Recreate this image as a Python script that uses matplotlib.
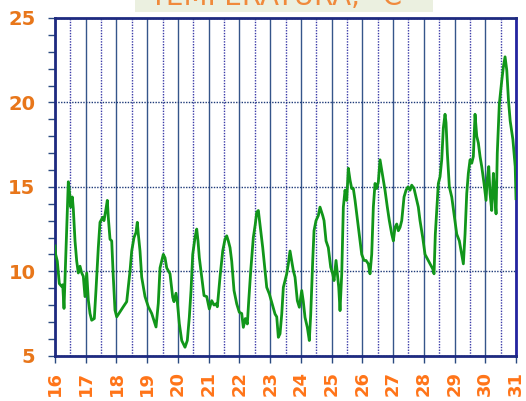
import matplotlib
matplotlib.use("Agg")
import matplotlib.pyplot as plt
from matplotlib.ticker import MultipleLocator
from matplotlib.patches import Rectangle

title = "TEMPERATURA, °C"
day_ticks = list(range(16, 32))
y_ticks = [5, 10, 15, 20, 25]

days = [16.0, 16.02, 16.075, 16.14, 16.218, 16.251, 16.293, 16.358, 16.433, 16.488,
        16.511, 16.563, 16.596, 16.651, 16.706, 16.758, 16.814, 16.869, 16.921, 16.976,
        17.032, 17.084, 17.139, 17.194, 17.279, 17.334, 17.409, 17.464, 17.552, 17.594,
        17.66, 17.702, 17.734, 17.79, 17.845, 17.897, 17.952, 18.008, 18.114, 18.222,
        18.333, 18.44, 18.496, 18.571, 18.636, 18.678, 18.711, 18.766, 18.821, 18.929,
        19.036, 19.147, 19.287, 19.361, 19.417, 19.524, 19.58, 19.635, 19.742, 19.83,
        19.872, 19.937, 19.98, 20.045, 20.123, 20.23, 20.305, 20.37, 20.426, 20.481,
        20.556, 20.611, 20.653, 20.696, 20.774, 20.849, 20.937, 21.021, 21.099, 21.174,
        21.239, 21.282, 21.369, 21.457, 21.532, 21.587, 21.639, 21.695, 21.75, 21.825,
        21.913, 21.997, 22.075, 22.128, 22.193, 22.258, 22.304, 22.369, 22.453, 22.518,
        22.564, 22.616, 22.649, 22.694, 22.759, 22.834, 22.889, 22.974, 23.052, 23.159,
        23.215, 23.267, 23.322, 23.378, 23.43, 23.484, 23.54, 23.592, 23.647, 23.702,
        23.755, 23.81, 23.885, 23.95, 24.028, 24.08, 24.135, 24.21, 24.275, 24.321,
        24.386, 24.428, 24.493, 24.568, 24.623, 24.711, 24.754, 24.819, 24.893, 24.971,
        25.036, 25.079, 25.144, 25.186, 25.232, 25.274, 25.33, 25.382, 25.437, 25.492,
        25.544, 25.6, 25.655, 25.707, 25.763, 25.818, 25.902, 25.98, 26.055, 26.12,
        26.195, 26.25, 26.305, 26.358, 26.413, 26.468, 26.521, 26.576, 26.631, 26.683,
        26.738, 26.813, 26.878, 26.957, 27.009, 27.064, 27.119, 27.171, 27.227, 27.282,
        27.357, 27.422, 27.487, 27.552, 27.607, 27.682, 27.747, 27.822, 27.877, 27.965,
        28.04, 28.115, 28.203, 28.291, 28.333, 28.375, 28.421, 28.473, 28.528, 28.583,
        28.636, 28.691, 28.723, 28.766, 28.831, 28.909, 28.984, 29.072, 29.156, 29.235,
        29.287, 29.342, 29.397, 29.449, 29.505, 29.56, 29.612, 29.667, 29.723, 29.775,
        29.83, 29.885, 29.96, 30.025, 30.067, 30.113, 30.156, 30.21, 30.264, 30.309,
        30.351, 30.391, 30.457, 30.537, 30.589, 30.644, 30.7, 30.756, 30.811, 30.899,
        30.974, 31.0]

temps = [11.5, 11.0, 10.6, 9.27, 9.1, 9.2, 7.8, 11.2, 15.3, 14.4,
         13.8, 14.4, 13.7, 11.8, 10.6, 9.9, 10.3, 9.9, 9.7, 8.5,
         9.9, 8.3, 7.5, 7.1, 7.2, 8.9, 11.4, 12.9, 13.2, 13.0,
         13.7, 14.2, 13.2, 11.9, 11.8, 9.65, 7.7, 7.3, 7.6, 7.9,
         8.2, 10.0, 11.2, 12.0, 12.3, 12.9, 12.2, 11.2, 9.65, 8.5,
         7.9, 7.5, 6.7, 8.1, 10.2, 11.0, 10.8, 10.2, 9.85, 8.46,
         8.2, 8.7, 8.2, 6.9, 5.9, 5.5, 5.9, 7.27, 8.86, 11.0,
         12.0, 12.5, 11.8, 10.8, 9.65, 8.56, 8.5, 7.77, 8.26, 8.0,
         8.07, 7.9, 9.65, 11.2, 11.9, 12.1, 11.8, 11.4, 10.6, 8.86,
         8.07, 7.57, 7.5, 6.68, 7.2, 6.88, 8.26, 10.04, 12.0, 12.8,
         13.5, 13.6, 13.1, 12.4, 11.4, 10.04, 9.05, 8.66, 8.16, 7.47,
         7.3, 6.09, 6.3, 7.47, 9.05, 9.45, 9.85, 10.44, 11.2, 10.6,
         10.04, 9.65, 8.26, 7.87, 8.86, 8.2, 7.27, 6.68, 5.9, 7.47,
         10.64, 12.4, 13.0, 13.3, 13.8, 13.3, 13.0, 11.8, 11.4, 10.24,
         9.85, 9.45, 10.64, 9.9, 9.05, 7.67, 9.85, 13.8, 14.8, 14.2,
         16.1, 15.4, 14.9, 14.9, 14.2, 13.4, 12.2, 11.0, 10.64, 10.64,
         10.44, 9.85, 11.0, 13.8, 15.2, 14.9, 15.3, 16.6, 16.0, 15.4,
         14.8, 13.8, 13.0, 12.2, 11.8, 12.6, 12.8, 12.4, 12.6, 13.0,
         14.4, 14.8, 15.0, 14.8, 15.1, 14.9, 14.4, 13.8, 13.0, 12.0,
         11.0, 10.74, 10.44, 10.14, 9.85, 12.2, 13.6, 15.2, 15.6, 16.6,
         18.5, 19.3, 18.8, 17.0, 15.0, 14.4, 13.4, 12.2, 11.8, 11.0,
         10.44, 12.2, 14.6, 15.8, 16.6, 16.4, 16.8, 19.3, 18.0, 17.6,
         16.8, 16.2, 15.2, 14.2, 15.5, 16.2, 14.6, 13.6, 15.8, 14.5,
         13.4, 17.0, 19.9, 21.3, 22.1, 22.7, 21.9, 20.1, 18.9, 17.8,
         16.2, 14.3]

W, H = 526, 401
fig = plt.figure(figsize=(W / 100, H / 100), dpi=100)
ax = fig.add_axes([55 / W, 1 - 355.7 / H, (516 - 55) / W, (355.7 - 18) / H])

# title box (partially cut at top)
fig.patches.append(Rectangle((135 / W, 1 - 11.7 / H), (433 - 135) / W, 11.7 / H + 0.01,
                             transform=fig.transFigure, facecolor="#ebf0e0",
                             edgecolor="none", zorder=0))
fig.text(276 / W, 1 - 5 / H, title, ha="center", va="baseline", fontsize=20,
         color="#f08a3c", family="DejaVu Sans")

ax.plot(days, temps, color="#11961a", lw=2.0, solid_joinstyle="round", zorder=3)

ax.set_xlim(16, 31)
ax.set_ylim(5, 25)
ax.set_xticks(day_ticks)
ax.set_xticklabels([str(d) for d in day_ticks], rotation=90)
ax.xaxis.set_minor_locator(MultipleLocator(0.5))
ax.set_yticks(y_ticks)
ax.yaxis.set_minor_locator(MultipleLocator(1))

ax.set_axisbelow(True)
ax.grid(which="major", axis="x", ls="-", color="#35558a", lw=1.0)
ax.grid(which="minor", axis="x", ls=(0, (1, 1)), color="#3a3aa8", lw=1.0)
ax.grid(which="major", axis="y", ls=(0, (1, 1)), color="#1e3a78", lw=1.0)

for s in ax.spines.values():
    s.set_color("#1e2a80")
    s.set_linewidth(2.0)
ax.spines["right"].set_color("#2424a0")

ax.tick_params(axis="y", which="both", direction="out", length=5, width=1,
               color="#2a4a80", labelcolor="#e8761a", labelsize=14, pad=9)
ax.tick_params(axis="x", which="major", direction="out", length=5, width=1,
               color="#2a4a80", labelcolor="#ff7418", labelsize=13, pad=6)
ax.tick_params(axis="x", which="minor", length=0)
for lbl in ax.get_xticklabels() + ax.get_yticklabels():
    lbl.set_fontweight("bold")

fig.savefig("out.png", dpi=100)
